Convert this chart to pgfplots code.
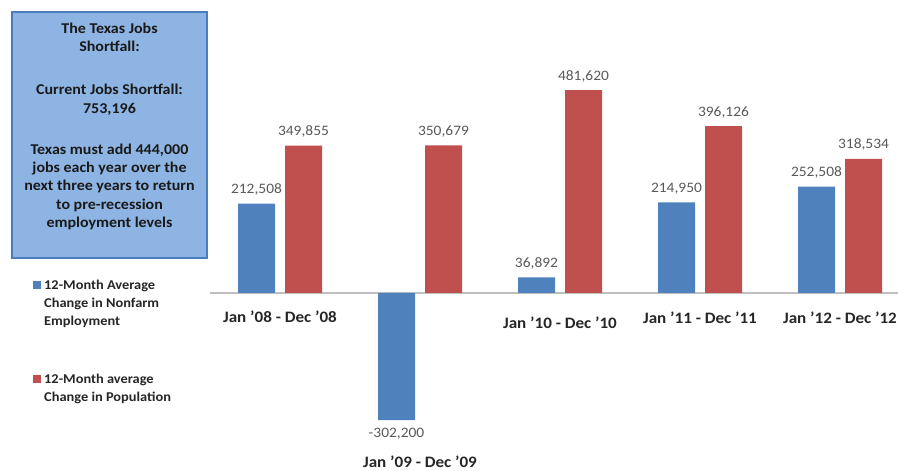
\documentclass[border=0pt]{standalone}
\usepackage{fontspec}
\setmainfont{Carlito}[FakeStretch=1.07]
\usepackage{pgfplots}
\pgfplotsset{compat=1.18}
\definecolor{barblue}{HTML}{4F81BD}
\definecolor{barred}{HTML}{C0504D}
\definecolor{boxfill}{HTML}{8EB4E3}
\definecolor{boxdraw}{HTML}{4A7EBB}
\definecolor{valgray}{HTML}{595959}
\definecolor{txtdark}{HTML}{262626}
\begin{document}
\begin{tikzpicture}
\useasboundingbox (0,0) rectangle (898bp,471bp);
% info box
\draw[boxdraw, line width=1.5bp, fill=boxfill] (12bp,213bp) rectangle (207bp,459bp);
\node[anchor=north, align=center, inner sep=0pt, text=black!90,
      font=\bfseries\fontsize{15}{18.5}\selectfont] at (109.5bp,448.4bp)
 {The Texas Jobs\\ Shortfall:\\[24.5bp] Current Jobs Shortfall:\\ 753,196\\[22.5bp] Texas must add 444,000\\ jobs each year over the\\ next three years to return\\ to pre-recession\\ employment levels};
% legend
\fill[barblue] (33bp,182bp) rectangle (41bp,190bp);
\node[anchor=north west, align=left, inner sep=0pt, text=txtdark,
      font=\bfseries\fontsize{13.5}{17.8}\selectfont] at (44bp,191bp)
 {12-Month Average\\ Change in Nonfarm\\ Employment};
\fill[barred] (33bp,88bp) rectangle (41bp,96bp);
\node[anchor=north west, align=left, inner sep=0pt, text=txtdark,
      font=\bfseries\fontsize{13.5}{17.8}\selectfont] at (44bp,96.7bp)
 {12-Month average\\ Change in Population};
\begin{axis}[
  at={(210bp,39.1bp)}, anchor=south west,
  scale only axis, width=700bp, height=349.4bp,
  xmin=-0.5, xmax=4.5, ymin=-330000, ymax=500000,
  enlargelimits=false, hide axis, clip=false,
  ybar=10bp, bar width=37bp,
  point meta=y,
  nodes near coords={\pgfmathprintnumber[fixed, precision=0, 1000 sep={,}, assume math mode=true]{\pgfplotspointmeta}},
  nodes near coords align=vertical,
  every node near coord/.append style={font=\fontsize{14.5}{15}\selectfont, text=valgray, inner ysep=8bp},
]
\draw[black!25, line width=1.5bp] (axis cs:-0.5,0) -- (axis cs:4.5,0);
\addplot[fill=barblue, draw=none] coordinates {
 (0,212508) (1,-302200) (2,36892) (3,214950) (4,252508)
};
\addplot[fill=barred, draw=none] coordinates {
 (0,349855) (1,350679) (2,481620) (3,396126) (4,318534)
};
\begin{scope}[every node/.style={font=\bfseries\fontsize{16}{18}\selectfont, text=txtdark, inner sep=0pt}]
\node at (axis cs:0,-56300) {Jan '08 - Dec '08};
\node at (axis cs:1,-401400) {Jan '09 - Dec '09};
\node at (axis cs:2,-71300) {Jan '10 - Dec '10};
\node at (axis cs:3,-59400) {Jan '11 - Dec '11};
\node at (axis cs:4,-59400) {Jan '12 - Dec '12};
\end{scope}
\end{axis}
\end{tikzpicture}
\end{document}
